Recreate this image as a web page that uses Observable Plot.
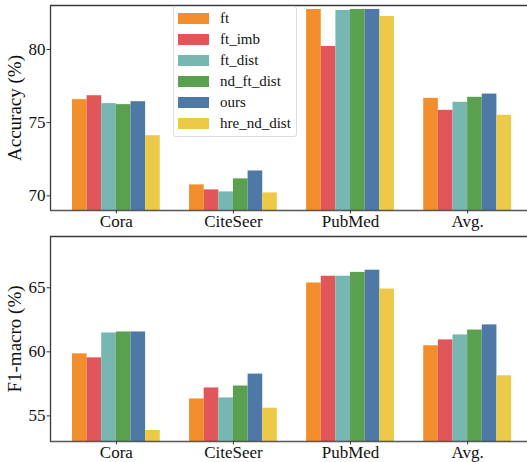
<!DOCTYPE html>
<html>
<head>
<meta charset="utf-8">
<script src="https://cdn.jsdelivr.net/npm/d3@7"></script>
<script src="https://cdn.jsdelivr.net/npm/@observablehq/plot@0.6"></script>
<style>
  html, body { margin: 0; padding: 0; background: #fff; }
  #wrap { position: relative; width: 527px; height: 462px; overflow: hidden; font-family: "Liberation Serif", "Times New Roman", serif; }
  #wrap svg { display: block; }
  .legend { position: absolute; left: 173px; top: 6px; width: 122px; height: 129px; border: 1px solid #dcdcdc; border-radius: 3px; background: rgba(255,255,255,0.85); box-sizing: content-box; }
  .legend .row { position: absolute; left: 0; height: 21px; }
  .legend .sw { position: absolute; left: 4px; top: 5px; width: 31px; height: 11px; }
  .legend .lb { position: absolute; left: 46px; top: 2px; font-size: 15px; white-space: nowrap; line-height: 17px; color: #111; }
</style>
</head>
<body>
<div id="wrap"></div>
<script>
// ---- data ----
const categories = ["Cora", "CiteSeer", "PubMed", "Avg."];
const series = ["ft", "ft_imb", "ft_dist", "nd_ft_dist", "ours", "hre_nd_dist"];
const colors = ["#F28E2B", "#E15759", "#76B7B2", "#59A14F", "#4E79A7", "#EDC948"];

// Accuracy (%) per series, in category order
const accFt        = [76.57, 70.75, 82.73, 76.66];
const accFtImb     = [76.84, 70.41, 80.20, 75.84];
const accFtDist    = [76.30, 70.27, 82.66, 76.39];
const accNdFtDist  = [76.23, 71.16, 82.73, 76.73];
const accOurs      = [76.43, 71.70, 82.73, 76.95];
const accHreNdDist = [74.11, 70.20, 82.25, 75.50];

// F1-macro (%) per series, in category order
const f1Ft        = [59.84, 56.32, 65.37, 60.47];
const f1FtImb     = [59.53, 57.18, 65.90, 60.93];
const f1FtDist    = [61.47, 56.40, 65.90, 61.32];
const f1NdFtDist  = [61.55, 57.33, 66.20, 61.70];
const f1Ours      = [61.55, 58.26, 66.37, 62.10];
const f1HreNdDist = [53.86, 55.60, 64.90, 58.13];

const accTicks = [70, 75, 80];
const f1Ticks = [55, 60, 65];

// ---- build tables ----
const accSeries = [accFt, accFtImb, accFtDist, accNdFtDist, accOurs, accHreNdDist];
const f1Series = [f1Ft, f1FtImb, f1FtDist, f1NdFtDist, f1Ours, f1HreNdDist];
const barW = 0.125;
function table(valuesBySeries) {
  const rows = [];
  valuesBySeries.forEach((vals, si) => {
    vals.forEach((v, ci) => {
      rows.push({
        category: categories[ci],
        series: series[si],
        value: v,
        x1: ci + (si - 3) * barW,
        x2: ci + (si - 2) * barW
      });
    });
  });
  return rows;
}

const xDomain = [-0.5625, 3.5113];
const font = "'Liberation Serif', 'Times New Roman', serif";
const spine = "#3a3a3a";

function panel(rows, yDomain, ticks, label) {
  return Plot.plot({
    width: 527,
    height: 231,
    marginLeft: 50,
    marginRight: 0,
    marginTop: 5,
    marginBottom: 21,
    style: { fontFamily: font, fontSize: "17px", background: "white", color: "#111", overflow: "visible" },
    x: { domain: xDomain, axis: null },
    y: { domain: yDomain, axis: null },
    color: { domain: series, range: colors },
    marks: [
      Plot.rectY(rows, { x1: "x1", x2: "x2", y1: 0, y2: "value", fill: "series", clip: true }),
      Plot.ruleY([yDomain[1]], { stroke: spine, strokeWidth: 1.3 }),
      Plot.ruleY([yDomain[0]], { stroke: spine, strokeWidth: 1.3, strokeOpacity: 0.85 }),
      Plot.ruleX([xDomain[0]], { stroke: spine, strokeWidth: 1.3 }),
      Plot.axisY({ ticks, tickSize: 3.5, tickPadding: 1.5, label, labelArrow: "none", labelAnchor: "center", labelOffset: 43, fontSize: 17, stroke: spine }),
      Plot.axisX({ ticks: [0, 1, 2, 3], tickFormat: i => categories[i], tickSize: 3.5, tickPadding: 1, label: null, fontSize: 17, stroke: spine })
    ]
  });
}

const wrap = document.getElementById("wrap");
const topPanel = panel(table(accSeries), [69, 83], accTicks, "Accuracy (%)");
const bottomPanel = panel(table(f1Series), [53, 69], f1Ticks, "F1-macro (%)");
wrap.appendChild(topPanel);
wrap.appendChild(bottomPanel);

// axis label: font size, strip any arrow
d3.select(wrap).selectAll("svg g[aria-label='y-axis label'] text")
  .style("font-size", "19px")
  .each(function () {
    const t = this.textContent.replace(/\s*[↑↓]\s*/g, "").trim();
    this.textContent = t;
  });

// legend
const legend = d3.select(wrap).append("div").attr("class", "legend");
series.forEach((s, i) => {
  const row = legend.append("div").attr("class", "row").style("top", (0.5 + i * 21.15) + "px").style("width", "100%");
  row.append("div").attr("class", "sw").style("background", colors[i]);
  row.append("div").attr("class", "lb").text(s);
});
</script>
</body>
</html>
